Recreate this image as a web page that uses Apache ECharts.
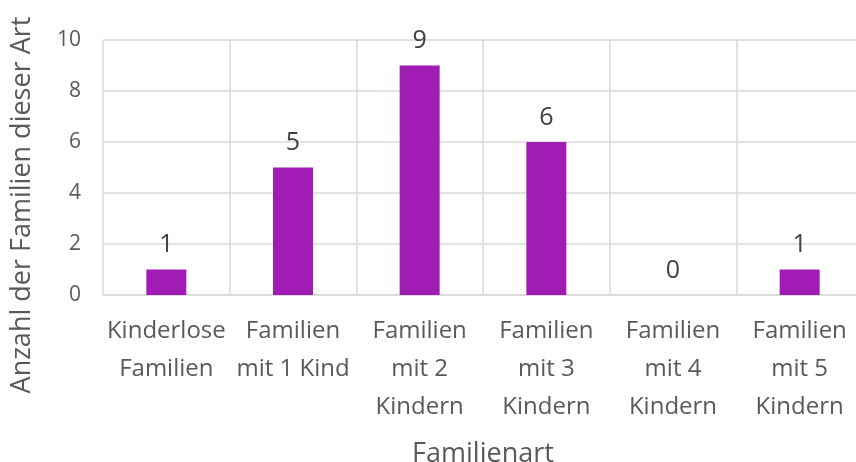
<!DOCTYPE html>
<html>
<head>
<meta charset="utf-8">
<script src="https://cdn.jsdelivr.net/npm/echarts@6/dist/echarts.min.js"></script>
<style>
  html, body { margin: 0; padding: 0; background: #fff; }
  #chart { width: 856px; height: 462px; }
</style>
</head>
<body>
<div id="chart"></div>
<script>
// categories and counts of families
const categories = [
    "Kinderlose\nFamilien",
    "Familien\nmit 1 Kind",
    "Familien\nmit 2\nKindern",
    "Familien\nmit 3\nKindern",
    "Familien\nmit 4\nKindern",
    "Familien\nmit 5\nKindern"
];
const counts = [1, 5, 9, 6, 0, 1];
const yTicks = [0, 2, 4, 6, 8, 10];
const yTitle = "Anzahl der Familien dieser Art";

const fontFamily = "'Open Sans', 'Noto Sans', sans-serif";
const chart = echarts.init(document.getElementById("chart"));

chart.setOption({
    animation: false,
    grid: {
        left: 103,
        top: 40,
        width: 760,
        height: 255,
        outerBoundsMode: "none"
    },
    // y axis title sits lower than the plot centre, so place it by hand
    graphic: [
        {
            type: "text",
            x: 22,
            y: 205,
            rotation: Math.PI / 2,
            style: {
                text: yTitle,
                fontFamily,
                fontSize: 27,
                fill: "#595959",
                align: "center",
                verticalAlign: "middle"
            }
        }
    ],
    xAxis: {
        type: "category",
        data: categories,
        name: "Familienart",
        nameLocation: "middle",
        nameGap: 146,
        nameTextStyle: { fontFamily, fontSize: 27, color: "#595959" },
        axisLine: { lineStyle: { color: "#d9d9d9", width: 1.5 } },
        axisTick: { show: false },
        splitLine: { show: true, lineStyle: { color: "#d9d9d9", width: 1.5 } },
        axisLabel: {
            interval: 0,
            margin: 17,
            fontFamily,
            fontSize: 24,
            lineHeight: 38,
            color: "#595959"
        }
    },
    yAxis: {
        type: "value",
        min: yTicks[0],
        max: yTicks[yTicks.length - 1],
        interval: 2,
        axisLine: { show: false },
        axisTick: { show: false },
        splitLine: { lineStyle: { color: "#d9d9d9", width: 1.5 } },
        axisLabel: { fontFamily, fontSize: 21, color: "#595959", margin: 22 }
    },
    series: [
        {
            type: "bar",
            data: counts,
            barWidth: 40,
            itemStyle: { color: "#A01CB4" },
            label: {
                show: true,
                position: "top",
                distance: 12,
                fontFamily,
                fontSize: 25,
                color: "#404040"
            }
        }
    ]
});
</script>
</body>
</html>
